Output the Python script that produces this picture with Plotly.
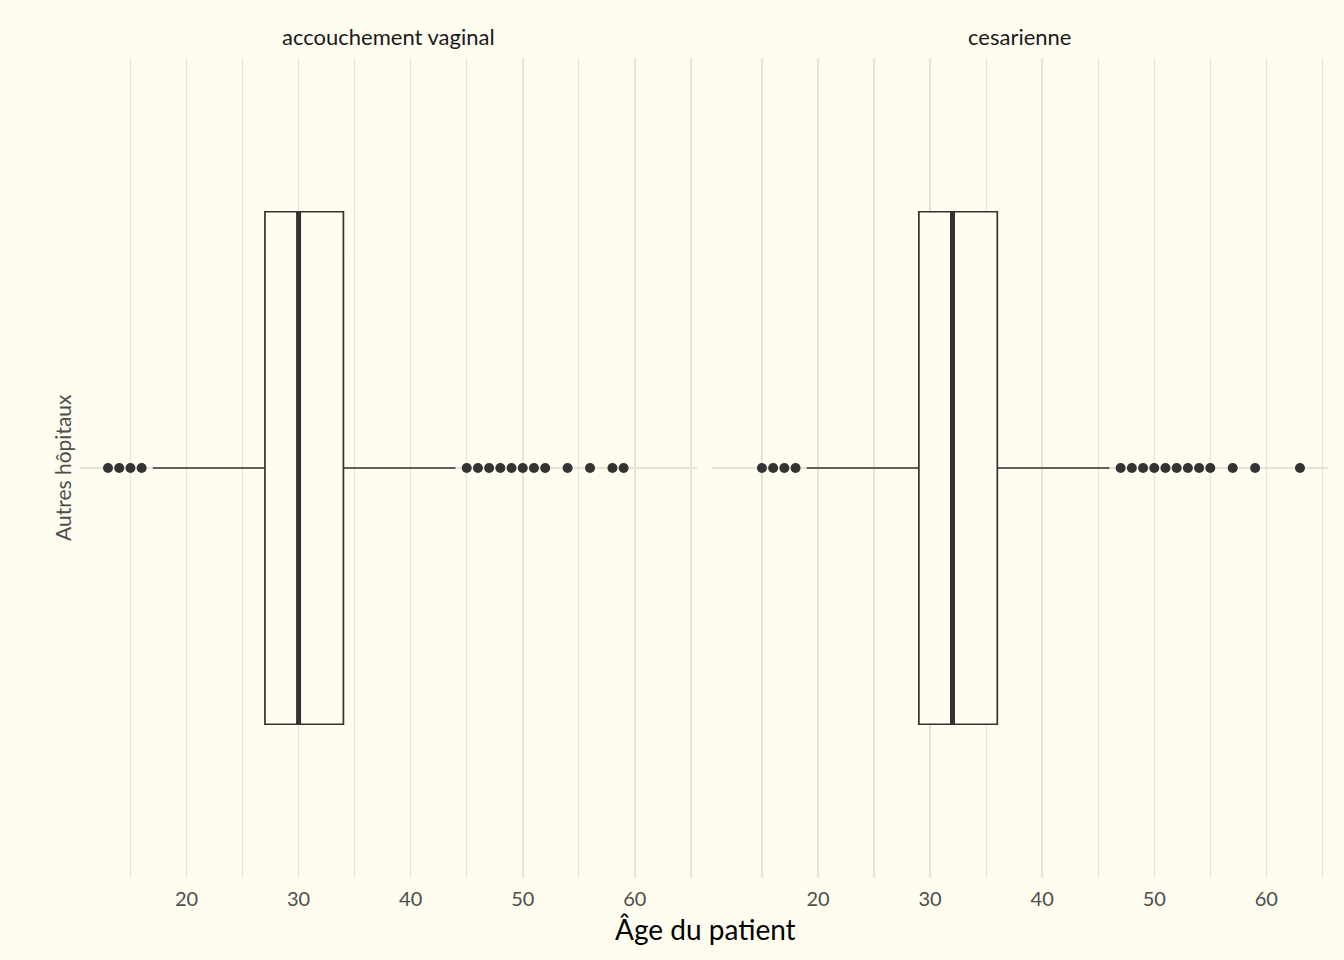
import plotly.graph_objects as go

# ---- data ----
facets = ["accouchement vaginal", "cesarienne"]
category = "Autres hôpitaux"
q1 = [27, 29]
median = [30, 32]
q3 = [34, 36]
lower_whisker = [17, 19]
upper_whisker = [44, 46]
outliers_vaginal = [13, 14, 15, 16, 45, 46, 47, 48, 49, 50, 51, 52, 54, 56, 58, 59]
outliers_cesarienne = [15, 16, 17, 18, 47, 48, 49, 50, 51, 52, 53, 54, 55, 57, 59, 63]
major_ticks = [20, 30, 40, 50, 60]
minor_ticks = [15, 25, 35, 45, 55, 65]
x_range = [10.5, 65.5]

BG = "#FFFDF0"
GRID = "#E6E4D8"
INK = "#333333"
FONT = "Lato"

fig = go.Figure()
outliers = [outliers_vaginal, outliers_cesarienne]
for i in range(2):
    xa = "x" if i == 0 else "x2"
    ya = "y" if i == 0 else "y2"
    fig.add_trace(go.Box(
        q1=[q1[i]], median=[median[i]], q3=[q3[i]],
        lowerfence=[lower_whisker[i]], upperfence=[upper_whisker[i]],
        y=[1], orientation="h", boxpoints=False, whiskerwidth=0, width=0.75,
        line=dict(color=INK, width=1.7), fillcolor=BG,
        xaxis=xa, yaxis=ya, showlegend=False, hoverinfo="skip"))
    fig.add_trace(go.Scatter(
        x=[median[i], median[i]], y=[0.625, 1.375], mode="lines",
        line=dict(color=INK, width=5), xaxis=xa, yaxis=ya,
        showlegend=False, hoverinfo="skip"))
    fig.add_trace(go.Scatter(
        x=outliers[i], y=[1] * len(outliers[i]), mode="markers",
        marker=dict(color=INK, size=10, line=dict(width=0)),
        xaxis=xa, yaxis=ya, showlegend=False, hoverinfo="skip"))

W, H = 1344, 960
ml, mr, mt, mb = 80, 16, 58, 82
pw = W - ml - mr
ph = H - mt - mb
gap = 15
dom1 = [0, (pw - gap) / 2 / pw]
dom2 = [1 - (pw - gap) / 2 / pw, 1]

xcommon = dict(range=x_range, tickvals=major_ticks, showgrid=True, gridcolor=GRID,
               gridwidth=1.5, zeroline=False, showline=False, ticks="",
               ticklabelstandoff=7,
               tickfont=dict(family=FONT, size=20, color="#4D4D4D"),
               minor=dict(tickvals=minor_ticks, showgrid=True, gridcolor=GRID, gridwidth=1.2),
               fixedrange=True)
ycommon = dict(range=[0.4, 1.6], tickvals=[1], showticklabels=False, showgrid=True,
               gridcolor=GRID, gridwidth=2, zeroline=False, showline=False, ticks="",
               fixedrange=True)

fig.update_layout(
    width=W, height=H,
    margin=dict(l=ml, r=mr, t=mt, b=mb),
    paper_bgcolor=BG, plot_bgcolor=BG,
    xaxis=dict(domain=dom1, anchor="y", **xcommon),
    xaxis2=dict(domain=dom2, anchor="y2", **xcommon),
    yaxis=dict(domain=[0, 1], anchor="x", **ycommon),
    yaxis2=dict(domain=[0, 1], anchor="x2", **ycommon),
    font=dict(family=FONT),
)

annotations = []
for i, dom in enumerate([dom1, dom2]):
    annotations.append(dict(
        text=facets[i], x=(dom[0] + dom[1]) / 2, y=1 + (mt - 37) / ph,
        xref="paper", yref="paper", showarrow=False, xanchor="center", yanchor="middle",
        font=dict(family=FONT, size=22, color="#1A1A1A")))
annotations.append(dict(
    text="Âge du patient", x=(705 - ml) / pw, y=-(929 - (H - mb)) / ph,
    xref="paper", yref="paper", showarrow=False, xanchor="center", yanchor="middle",
    font=dict(family=FONT, size=28, color="#000000")))
annotations.append(dict(
    text=category, x=(62 - ml) / pw, y=0.5, textangle=-90,
    xref="paper", yref="paper", showarrow=False, xanchor="center", yanchor="middle",
    font=dict(family=FONT, size=21, color="#4D4D4D")))
fig.update_layout(annotations=annotations)

fig.write_html(
    "out.html",
    config={"displayModeBar": False, "staticPlot": True},
    post_script=f"document.body.style.margin='0';document.body.style.background='{BG}';",
)
